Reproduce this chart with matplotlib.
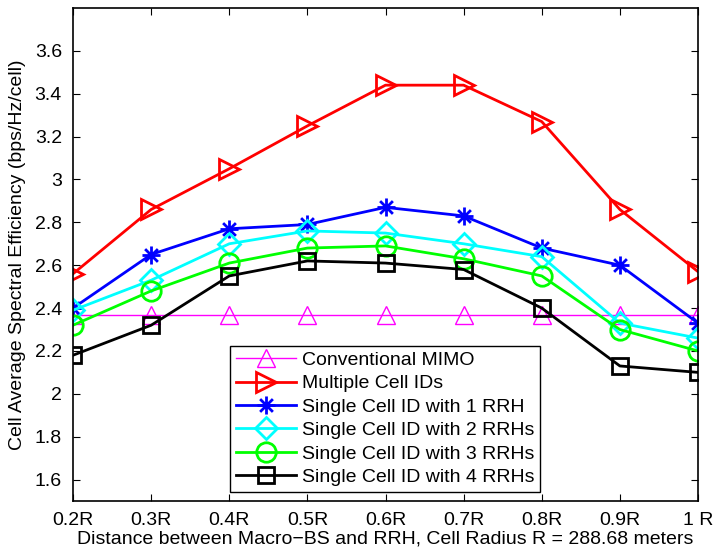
import matplotlib
matplotlib.use("Agg")
import matplotlib.pyplot as plt
from matplotlib.path import Path

plt.rcParams['font.family'] = ['Liberation Sans', 'DejaVu Sans']

x = [0.2, 0.3, 0.4, 0.5, 0.6, 0.7, 0.8, 0.9, 1.0]
xlabels = ['0.2R', '0.3R', '0.4R', '0.5R', '0.6R', '0.7R', '0.8R', '0.9R', '1 R']

conventional = [2.37, 2.37, 2.37, 2.37, 2.37, 2.37, 2.37, 2.37, 2.37]
multiple_ids = [2.56, 2.86, 3.05, 3.25, 3.44, 3.44, 3.27, 2.86, 2.57]
single_1rrh = [2.40, 2.65, 2.77, 2.79, 2.87, 2.83, 2.68, 2.60, 2.33]
single_2rrh = [2.39, 2.53, 2.70, 2.76, 2.75, 2.70, 2.64, 2.33, 2.26]
single_3rrh = [2.32, 2.48, 2.61, 2.68, 2.69, 2.63, 2.55, 2.30, 2.20]
single_4rrh = [2.18, 2.32, 2.55, 2.62, 2.61, 2.58, 2.40, 2.13, 2.10]

yticks = [1.6, 1.8, 2.0, 2.2, 2.4, 2.6, 2.8, 3.0, 3.2, 3.4, 3.6]
yticklabels = ['1.6', '1.8', '2', '2.2', '2.4', '2.6', '2.8', '3', '3.2', '3.4', '3.6']

# MATLAB-style asterisk: '+' and 'x' overlaid
d = 0.7071
asterisk = Path([(0, -1), (0, 1), (-1, 0), (1, 0), (-d, -d), (d, d), (-d, d), (d, -d)],
                [Path.MOVETO, Path.LINETO] * 4)

fig = plt.figure(figsize=(7.15, 5.57), dpi=100)
ax = fig.add_axes([73/715, 1-501/557, 625/715, 493/557])

ax.plot(x, conventional, color=(1, 0, 1), lw=1, marker='^', ms=13, mfc='none', mew=1,
        label='Conventional MIMO')
ax.plot(x, multiple_ids, color=(1, 0, 0), lw=2, marker='>', ms=15, mfc='none', mew=2,
        label='Multiple Cell IDs')
ax.plot(x, single_1rrh, color=(0, 0, 1), lw=2, marker=asterisk, ms=13, mew=2,
        label='Single Cell ID with 1 RRH')
ax.plot(x, single_2rrh, color=(0, 1, 1), lw=2, marker='D', ms=11, mfc='none', mew=2,
        label='Single Cell ID with 2 RRHs')
ax.plot(x, single_3rrh, color=(0, 1, 0), lw=2, marker='o', ms=14, mfc='none', mew=2,
        label='Single Cell ID with 3 RRHs')
ax.plot(x, single_4rrh, color=(0, 0, 0), lw=2, marker='s', ms=11, mfc='none', mew=2,
        label='Single Cell ID with 4 RRHs')

ax.set_xlim(0.2, 1.0)
ax.set_ylim(1.5, 3.8)
ax.set_xticks(x)
ax.set_xticklabels(xlabels)
ax.set_yticks(yticks)
ax.set_yticklabels(yticklabels)
ax.tick_params(direction='in', top=True, right=True, labelsize=14, length=5, width=0.8, pad=8)
for s in ax.spines.values():
    s.set_linewidth(1.2)

ax.set_xlabel('Distance between Macro\u2212BS and RRH, Cell Radius R = 288.68 meters', fontsize=14, labelpad=1)
ax.set_ylabel('Cell Average Spectral Efficiency (bps/Hz/cell)', fontsize=14, labelpad=6)

leg = ax.legend(loc='lower left', bbox_to_anchor=(157/625, 9/493), borderaxespad=0,
                fontsize=14, fancybox=False, edgecolor='black', framealpha=1,
                handlelength=3.1, handletextpad=0.3, labelspacing=0.3, borderpad=0.3)
leg.get_frame().set_linewidth(1)

fig.savefig('out.png', dpi=100)
